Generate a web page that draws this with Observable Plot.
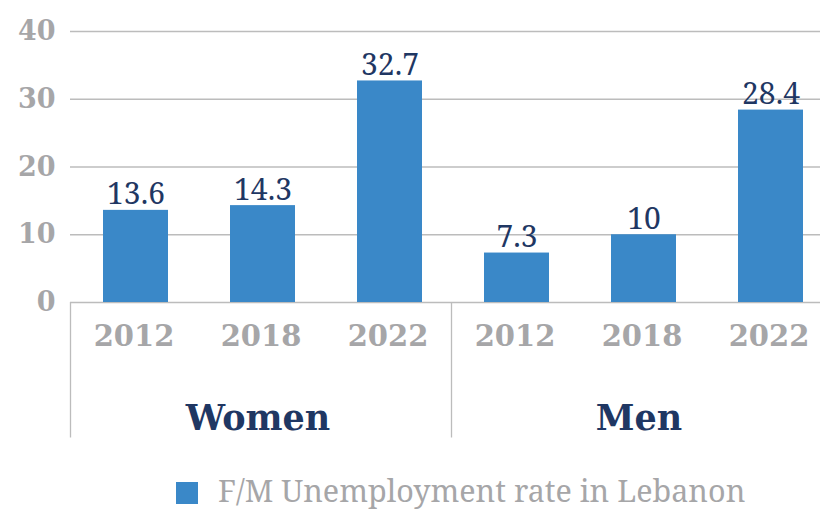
<!DOCTYPE html>
<html><head><meta charset="utf-8">
<script src="https://cdn.jsdelivr.net/npm/d3@7"></script>
<script src="https://cdn.jsdelivr.net/npm/@observablehq/plot@0.6"></script>
<style>
  html,body{margin:0;padding:0;background:#fff;}
  body{width:820px;height:511px;overflow:hidden;font-family:'DejaVu Serif',serif;}
  .c, .c text{font-family:'DejaVu Serif',serif;}
  .c text.reg, .c g.reg text{font-family:'Noto Serif','DejaVu Serif',serif;}
  .c g[aria-label="y-axis tick label"] text{font-weight:bold;font-size:27px;fill:#a6a6a8;}
  #legend{position:relative;height:46px;}
  #legend .sw{position:absolute;left:176px;top:17px;width:22px;height:22px;background:#3a88c8;}
  #legend .tx{position:absolute;left:218px;top:9px;font-family:'Noto Serif','DejaVu Serif',serif;font-size:26px;color:#a6a6a8;line-height:32px;white-space:nowrap;}
</style>
</head><body>
<div id="chart"></div>
<div id="legend"><div class="sw"></div><div class="tx" id="legtext"></div></div>
<script>
const groups = ["Women","Women","Women","Men","Men","Men"];
const years = ["2012","2018","2022","2012","2018","2022"];
const values = [13.6,14.3,32.7,7.3,10,28.4];
const yTicks = [0,10,20,30,40];
const groupNames = ["Women","Men"];
const seriesName = "F/M Unemployment rate in Lebanon";

const data = values.map((v,i)=>({key: groups[i]+" "+years[i], group: groups[i], year: years[i], value: v}));
const keys = data.map(d=>d.key);
const groupMid = groupNames.map(g=>{const m = data.filter(d=>d.group===g); return {group:g, key:m[Math.floor(m.length/2)].key};});
const groupStart = groupNames.map(g=>data.find(d=>d.group===g).key);

const left = 70, right = 832;
const step = (right-left)/keys.length;
const barW = 65;
const inset = (step-barW)/2;
const shift = 2;

const navy = "#1f3763", gray = "#a6a6a8", blue = "#3a88c8", grid = "#bcbcbc";

const chart = Plot.plot({
  className: "c",
  width: 820, height: 465,
  marginLeft: left, marginRight: 0, marginTop: 31, marginBottom: 163,
  style: {background: "#fff"},
  x: {type: "band", domain: keys, range: [left, right], padding: 0, axis: null},
  y: {domain: [0, 40], label: null},
  marks: [
    Plot.ruleY(yTicks, {stroke: grid, strokeWidth: 1.3}),
    Plot.axisY({ticks: yTicks, tickSize: 0, tickPadding: 15, label: null}),
    Plot.barY(data, {x: "key", y: "value", fill: blue, insetLeft: inset + shift, insetRight: inset - shift}),
    Plot.text(data, {x: "key", y: "value", text: d => String(d.value), lineAnchor: "bottom", dy: -6, dx: shift, fontSize: 30, fill: navy, className: "reg"}),
    Plot.ruleX(groupStart, {x: d => d, y1: 0, y2: -20, dx: -step/2, stroke: grid, strokeWidth: 1.3}),
    Plot.text(data, {x: "key", text: "year", frameAnchor: "bottom", dy: 34, lineAnchor: "middle", fontSize: 29, fontWeight: "bold", fill: gray}),
    Plot.text(groupMid, {x: "key", text: "group", frameAnchor: "bottom", dy: 116, dx: -3, lineAnchor: "middle", fontSize: 35, fontWeight: "bold", fill: navy})
  ]
});
document.getElementById("chart").appendChild(chart);
const lt = document.getElementById("legtext");
lt.textContent = seriesName;
// fit legend text to the reference's width
const w = lt.getBoundingClientRect().width;
if (w > 0) lt.style.fontSize = (26 * 527 / w).toFixed(1) + "px";
</script>
</body></html>
